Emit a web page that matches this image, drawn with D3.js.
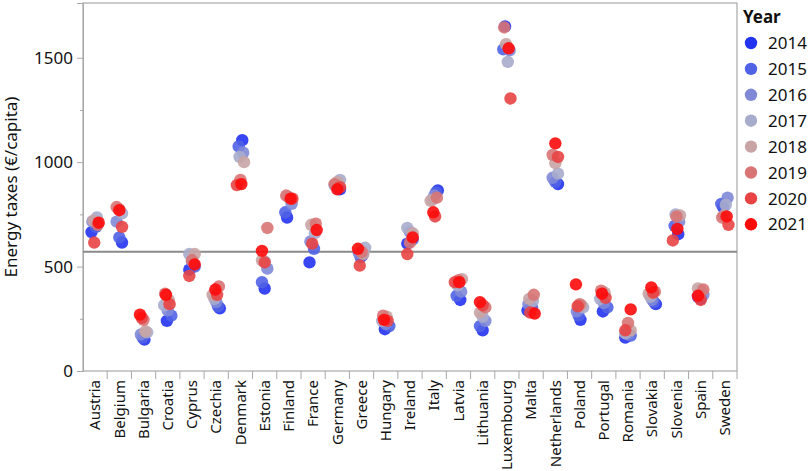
<!DOCTYPE html>
<html lang="en">
<head>
<meta charset="UTF-8">
<title>Energy taxes per capita</title>
<script src="https://d3js.org/d3.v7.min.js"></script>
<style>
    body { margin: 0; background: #fff; }
    svg text { font-family: "Noto Sans", "Open Sans", sans-serif; fill: #111; }
</style>
</head>
<body>
<div id="chart"></div>
<script>
const countries = ["Austria", "Belgium", "Bulgaria", "Croatia", "Cyprus", "Czechia", "Denmark", "Estonia",
    "Finland", "France", "Germany", "Greece", "Hungary", "Ireland", "Italy", "Latvia", "Lithuania",
    "Luxembourg", "Malta", "Netherlands", "Poland", "Portugal", "Romania", "Slovakia", "Slovenia",
    "Spain", "Sweden"];
const years = [2014, 2015, 2016, 2017, 2018, 2019, 2020, 2021];
const yearColors = ["#2233f0", "#5062e6", "#8088d8", "#a8accc", "#c8a4a4", "#d87474", "#e84444", "#ff0a0a"];
const yTicks = [0, 500, 1000, 1500];

// one row per country, values 2014..2021
const v2014 = [665, 615, 150, 240, 485, 300, 1105, 395, 735, 520, 870, 555, 200, 610, 865, 340, 195, 1650, 290, 895, 245, 285, 160, 320, 655, 345, 785];
const v2015 = [690, 640, 160, 265, 500, 310, 1075, 425, 760, 585, 880, 545, 215, 630, 855, 360, 215, 1540, 305, 905, 265, 305, 170, 330, 695, 355, 800];
const v2016 = [715, 715, 175, 290, 525, 330, 1045, 490, 800, 620, 890, 565, 225, 665, 840, 380, 240, 1535, 320, 925, 285, 325, 175, 340, 715, 365, 830];
const v2017 = [735, 755, 185, 315, 560, 345, 1025, 525, 825, 660, 915, 590, 240, 685, 820, 410, 260, 1480, 335, 945, 305, 345, 180, 355, 750, 385, 795];
const v2018 = [720, 775, 190, 340, 560, 365, 1000, 530, 835, 700, 905, 560, 260, 660, 815, 440, 280, 1565, 345, 995, 315, 375, 195, 370, 745, 395, 745];
const v2019 = [700, 785, 245, 370, 530, 405, 915, 685, 840, 705, 895, 570, 265, 615, 830, 435, 305, 1645, 365, 1035, 320, 385, 230, 380, 740, 390, 735];
const v2020 = [615, 690, 255, 320, 455, 365, 890, 520, 825, 610, 880, 505, 240, 560, 740, 425, 315, 1305, 280, 1025, 310, 350, 195, 375, 625, 340, 700];
const v2021 = [710, 770, 270, 365, 510, 390, 895, 575, 825, 675, 870, 585, 245, 640, 760, 425, 330, 1545, 275, 1090, 415, 370, 295, 400, 680, 360, 740];
const series = [v2014, v2015, v2016, v2017, v2018, v2019, v2020, v2021];

const width = 809, height = 471;
const margin = { top: 3, right: 72, bottom: 100, left: 83 };

const svg = d3.select("#chart").append("svg")
    .attr("width", width)
    .attr("height", height);

const x = d3.scaleBand()
    .domain(countries)
    .range([margin.left, width - margin.right]);

const y = d3.scaleLinear()
    .domain([0, 1762])
    .range([height - margin.bottom, margin.top]);

const color = d3.scaleOrdinal().domain(years).range(yearColors);

// flatten into points
let points = [];
years.forEach((yr, yi) => {
    series[yi].forEach((val, ci) => {
        points.push({ country: countries[ci], year: yr, value: val, ci: ci, yi: yi });
    });
});

// small fixed jitter so the years don't sit exactly on top of each other
function jitter(d) {
    const k = (d.ci * 7 + d.yi * 5 + (d.ci % 3) * d.yi) % 9;
    return (k - 4) * 0.9;
}

// frame
svg.append("rect")
    .attr("x", margin.left)
    .attr("y", margin.top)
    .attr("width", width - margin.right - margin.left)
    .attr("height", height - margin.bottom - margin.top)
    .attr("fill", "none")
    .attr("stroke", "#a8a8a8")
    .attr("stroke-width", 1.2);

// y axis
const yAxis = svg.append("g")
    .attr("transform", `translate(${margin.left},0)`)
    .call(d3.axisLeft(y).tickValues(yTicks).tickSize(6).tickPadding(4).tickFormat(d3.format("d")));
yAxis.select(".domain").attr("stroke", "#a8a8a8");
yAxis.selectAll(".tick line").attr("stroke", "#a8a8a8");
yAxis.selectAll(".tick text").style("font-size", "17px");

svg.append("g")
    .attr("transform", `translate(${margin.left},0)`)
    .call(d3.axisLeft(y).tickValues([250, 750, 1250]).tickSize(3).tickFormat(""))
    .call(g => g.select(".domain").remove())
    .selectAll(".tick line").attr("stroke", "#a8a8a8");

svg.append("text")
    .attr("transform", `translate(17,${(margin.top + height - margin.bottom) / 2}) rotate(-90)`)
    .attr("text-anchor", "middle")
    .style("font-size", "17px")
    .text("Energy taxes (€/capita)");

// x axis: separators between categories
const xBase = height - margin.bottom;
svg.append("g")
    .selectAll("line")
    .data(countries)
    .join("line")
    .attr("x1", d => x(d) + x.bandwidth())
    .attr("x2", d => x(d) + x.bandwidth())
    .attr("y1", xBase)
    .attr("y2", xBase + 8)
    .attr("stroke", "#a8a8a8");

svg.append("g")
    .selectAll("text")
    .data(countries)
    .join("text")
    .attr("transform", d => `translate(${x(d) + x.bandwidth() / 2},${xBase + 9}) rotate(-90)`)
    .attr("text-anchor", "end")
    .attr("dy", "0.35em")
    .style("font-size", "15px")
    .text(d => d);

// mean reference line
const meanVal = d3.mean(points, d => d.value);
svg.append("line")
    .attr("x1", margin.left)
    .attr("x2", width - margin.right)
    .attr("y1", y(meanVal))
    .attr("y2", y(meanVal))
    .attr("stroke", "#8a8a8a")
    .attr("stroke-width", 2);

// points
svg.append("g")
    .selectAll("circle")
    .data(points)
    .join("circle")
    .attr("cx", d => x(d.country) + x.bandwidth() / 2 + jitter(d))
    .attr("cy", d => y(d.value))
    .attr("r", 6.2)
    .attr("fill", d => color(d.year))
    .attr("fill-opacity", 0.9);

// legend
const legend = svg.append("g").attr("transform", "translate(743,0)");
legend.append("text")
    .attr("x", 0)
    .attr("y", 23)
    .style("font-size", "17px")
    .style("font-weight", "bold")
    .text("Year");

const item = legend.selectAll(".item")
    .data(years)
    .join("g")
    .attr("class", "item")
    .attr("transform", (d, i) => `translate(0,${43 + i * 25.9})`);
item.append("circle")
    .attr("cx", 8)
    .attr("cy", 0)
    .attr("r", 6.2)
    .attr("fill", d => color(d));
item.append("text")
    .attr("x", 25)
    .attr("dy", "0.36em")
    .style("font-size", "17px")
    .text(d => d);
</script>
</body>
</html>
